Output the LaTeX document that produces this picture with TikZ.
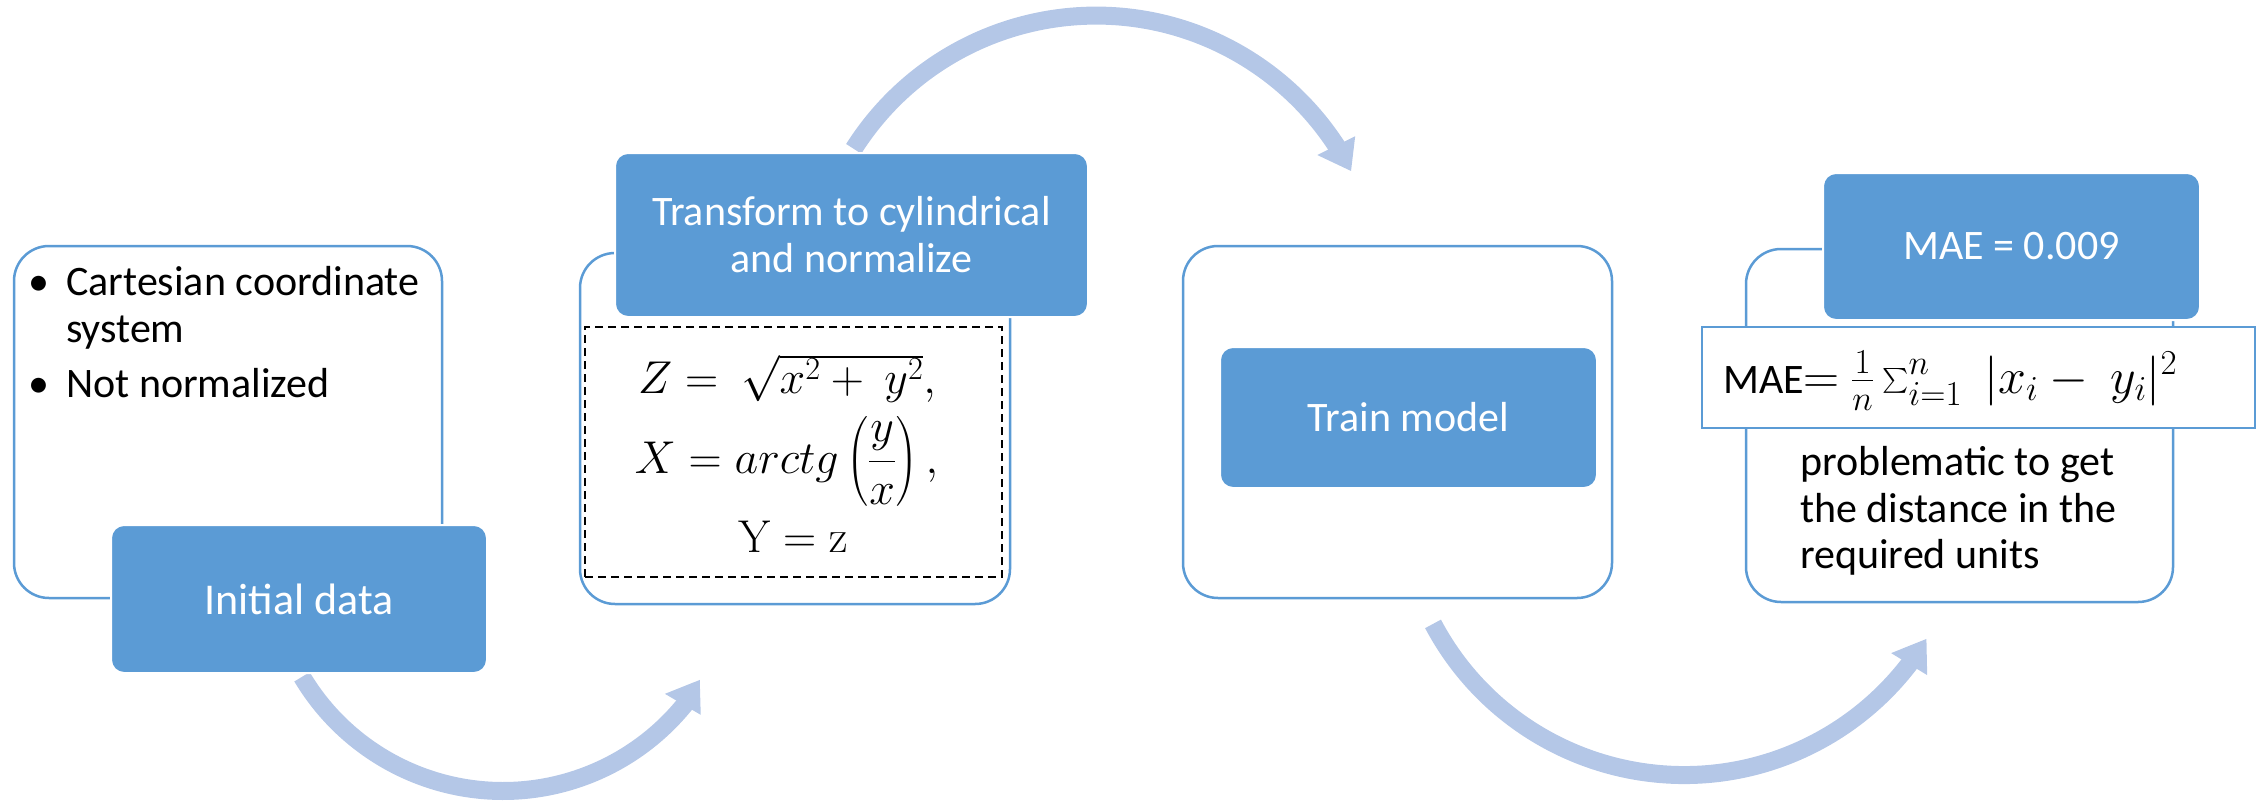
\RequirePackage{fix-cm}
\documentclass[tikz,border=0pt]{standalone}
\usepackage{exscale}
\usepackage[no-math]{fontspec}
\setmainfont{Carlito}
\usetikzlibrary{calc}
\definecolor{accblue}{HTML}{5B9BD5}
\definecolor{arrowblue}{HTML}{B4C7E7}
\begin{document}
\begin{tikzpicture}[x=1pt,y=-1pt,
  outerbox/.style={draw=accblue, line width=2.5pt, rounded corners=35pt, fill=white, inner sep=0pt},
  bluebox/.style={fill=accblue, draw=white, line width=2pt, rounded corners=13pt, text=white, align=center, inner sep=0pt, font=\fontsize{42}{47}\selectfont},
  dashbox/.style={draw=black, dash pattern=on 8pt off 5pt, line width=1.8pt, inner sep=0pt},
  formbox/.style={draw=accblue, fill=white, line width=2.5pt, inner sep=0pt},
  txt/.style={inner sep=0pt, font=\fontsize{42}{47}\selectfont},
  eq/.style={inner sep=0pt, font=\fontsize{46}{52}\selectfont},
  arrowshaft/.style={draw=arrowblue, line width=18pt},
  arrowtip/.style={fill=arrowblue},
]
\useasboundingbox (0,0) rectangle (2262,801);

% curved arrows
\coordinate (c1) at (503,557);
\coordinate (a1s) at ($(c1)+(149.2:234)$);
\coordinate (a1e) at ($(c1)+(32:232)$);
\draw[arrowshaft] (a1s) arc[start angle=149.2, end angle=38.8, radius=234];
\fill[arrowtip] ($(c1)+(40.2:212)$) -- ($(c1)+(38.6:253)$) -- (a1e) -- cycle;

\coordinate (c2) at (1096,302.6);
\coordinate (a2s) at ($(c2)+(212.4:287)$);
\coordinate (a2e) at ($(c2)+(332.7:287)$);
\draw[arrowshaft] (a2s) arc[start angle=212.4, end angle=327.5, radius=287];
\fill[arrowtip] ($(c2)+(326.3:266)$) -- ($(c2)+(327.3:308)$) -- (a2e) -- cycle;

\coordinate (c3) at (1684,491);
\coordinate (a3s) at ($(c3)+(152.1:284)$);
\coordinate (a3e) at ($(c3)+(31.4:284)$);
\draw[arrowshaft] (a3s) arc[start angle=152.1, end angle=36.8, radius=284];
\fill[arrowtip] ($(c3)+(38.05:263)$) -- ($(c3)+(37.13:305)$) -- (a3e) -- cycle;

% outer boxes
\node[outerbox, minimum width=428pt, minimum height=352pt] (o1) at (228,422) {};
\node[outerbox, minimum width=430pt, minimum height=351pt] (o2) at (795,428.5) {};
\node[outerbox, minimum width=429pt, minimum height=352pt] (o3) at (1397.5,422) {};
\node[outerbox, minimum width=427pt, minimum height=353pt] (o4) at (1959.5,425.5) {};

% blue boxes
\node[bluebox, minimum width=376pt, minimum height=148pt, font=\fontsize{44}{47}\selectfont] (b1) at (299,599) {Initial data};
\node[bluebox, minimum width=473pt, minimum height=164pt] (b2) at (851.5,235) {Transform to cylindrical\\and normalize};
\node[bluebox, minimum width=377pt, minimum height=141pt] (b3) at (1408.5,417.5) {Train model};
\node[bluebox, minimum width=377pt, minimum height=147pt] (b4) at (2011.5,246.5) {MAE = 0.009};

% dashed formula box
\node[dashbox, minimum width=417pt, minimum height=250pt] (db) at (793.5,452) {};
\node[eq, anchor=base] (eqz) at (787,393) {$Z =\ \sqrt{x^2 +\ y^2},$};
\node[eq, anchor=base] (eqx) at (786.5,473) {$X = arctg\left({\displaystyle\frac{y}{x}}\right),$};
\node[eq, anchor=base] (eqy) at (793,552) {$\mathrm{Y} = \mathrm{z}$};

% MAE formula box
\node[formbox, minimum width=553pt, minimum height=101pt] (fb) at (1978.5,377.5) {};
\node[txt, anchor=base west] (maef) at (1723,393) {MAE{\fontsize{50}{55}\selectfont$=$\ $\frac{1}{n}\sum_{i=1}^{n}\;|x_i -\ y_i|^2$}};

% texts
\node[txt, anchor=base] (bul1) at (39,295) {\textbullet};
\node[txt, anchor=base west] (t1a) at (66,295) {Cartesian coordinate};
\node[txt, anchor=base west] (t1b) at (66,342) {system};
\node[txt, anchor=base] (bul2) at (39,397) {\textbullet};
\node[txt, anchor=base west] (t2) at (66,397) {Not normalized};
\node[txt, anchor=base west] (t4a) at (1800,475) {problematic to get};
\node[txt, anchor=base west] (t4b) at (1800,522) {the distance in the};
\node[txt, anchor=base west] (t4c) at (1800,568) {required units};
\end{tikzpicture}
\end{document}
